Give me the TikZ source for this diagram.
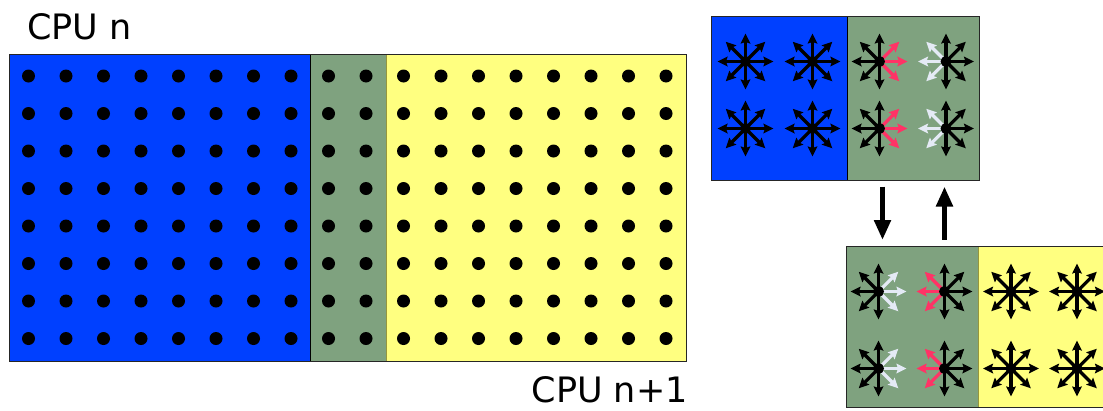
\documentclass[tikz,border=0pt]{standalone}
\usepackage{fontspec}
\setmainfont{DejaVu Sans}
\usetikzlibrary{arrows.meta}

\definecolor{cpublue}{RGB}{0,64,255}
\definecolor{ghostgreen}{RGB}{127,162,127}
\definecolor{cpuyellow}{RGB}{255,255,128}
\definecolor{sendred}{RGB}{255,51,102}
\definecolor{recvwhite}{RGB}{228,234,245}
\definecolor{olive}{RGB}{150,150,60}

\tikzset{
  cpulbl/.style={font=\fontsize{35}{40}\selectfont, inner sep=0pt},
  region/.style={draw=black!85, line width=1.2pt},
  gdot/.style={circle, fill=black, inner sep=0pt, minimum size=13pt},
  ray/.style={line width=3.2pt, -{Stealth[length=10pt,width=9.5pt,inset=1.5pt]}},
  bigarrow/.style={line width=5pt, -{Triangle[length=20pt,width=16pt]}}
}

% one cell: 8 rays, east half and west half coloured
\newcommand{\fluxstar}[4]{%
  \coordinate (#1) at (#2);
  \foreach \a in {90,270} \draw[ray] (#1) -- ++(\a:28);
  \foreach \a in {-45,0,45} \draw[ray, draw=#3] (#1) -- ++(\a:28);
  \foreach \a in {135,180,225} \draw[ray, draw=#4] (#1) -- ++(\a:28);
  \fill (#1) circle[radius=5.5pt];
}

\begin{document}
\begin{tikzpicture}[x=1pt, y=-1pt]
  \useasboundingbox (0,0) rectangle (1103,410);
  \clip (0,0) rectangle (1103,410);

  % full domain
  \fill[cpublue] (9.5,54.5) rectangle (310.5,361.5);
  \fill[ghostgreen] (310.5,54.5) rectangle (386,361.5);
  \fill[cpuyellow] (386,54.5) rectangle (686.5,361.5);
  \draw[black, line width=1pt] (310.5,54.5) -- (310.5,361.5);
  \draw[olive, line width=1pt] (386,54.5) -- (386,361.5);
  \draw[region] (9.5,54.5) rectangle (686.5,361.5);
  \foreach \i in {0,...,17}
    \foreach \j in {0,...,7}
      \node[gdot] (d-\i-\j) at (28.5+37.5*\i, 76+37.5*\j) {};

  \node[cpulbl, anchor=base west] (lbln) at (27,39) {CPU n};
  \node[cpulbl, anchor=base east] (lblm) at (688,402) {CPU n+1};

  % upper panel (CPU n)
  \fill[cpublue] (711.5,16.5) rectangle (847,180.5);
  \fill[ghostgreen] (847,16.5) rectangle (979.5,180.5);
  \draw[black, line width=1pt] (847,16.5) -- (847,180.5);
  \draw[region] (711.5,16.5) rectangle (979.5,180.5);
  \foreach \y [count=\r] in {61.5,128.5} {
    \fluxstar{u1\r}{745.5,\y}{black}{black}
    \fluxstar{u2\r}{812.5,\y}{black}{black}
    \fluxstar{u3\r}{879.5,\y}{sendred}{black}
    \fluxstar{u4\r}{946,\y}{black}{recvwhite}
  }

  % lower panel (CPU n+1)
  \fill[ghostgreen] (846.5,246.5) rectangle (978.5,407.5);
  \fill[cpuyellow] (978.5,246.5) rectangle (1114,407.5);
  \draw[olive, line width=1pt] (978.5,246.5) -- (978.5,407.5);
  \draw[region] (846.5,246.5) rectangle (1114,407.5);
  \foreach \y [count=\r] in {291.5,368.5} {
    \fluxstar{l1\r}{878.5,\y}{recvwhite}{black}
    \fluxstar{l2\r}{944.5,\y}{black}{sendred}
    \fluxstar{l3\r}{1011,\y}{black}{black}
    \fluxstar{l4\r}{1077,\y}{black}{black}
  }

  % exchange
  \coordinate (dn-top) at (882.5,186.5);
  \coordinate (dn-bot) at (882.5,240);
  \coordinate (up-bot) at (944.5,239.5);
  \coordinate (up-top) at (944.5,186.5);
  \draw[bigarrow] (dn-top) -- (dn-bot);
  \draw[bigarrow] (up-bot) -- (up-top);
\end{tikzpicture}
\end{document}
